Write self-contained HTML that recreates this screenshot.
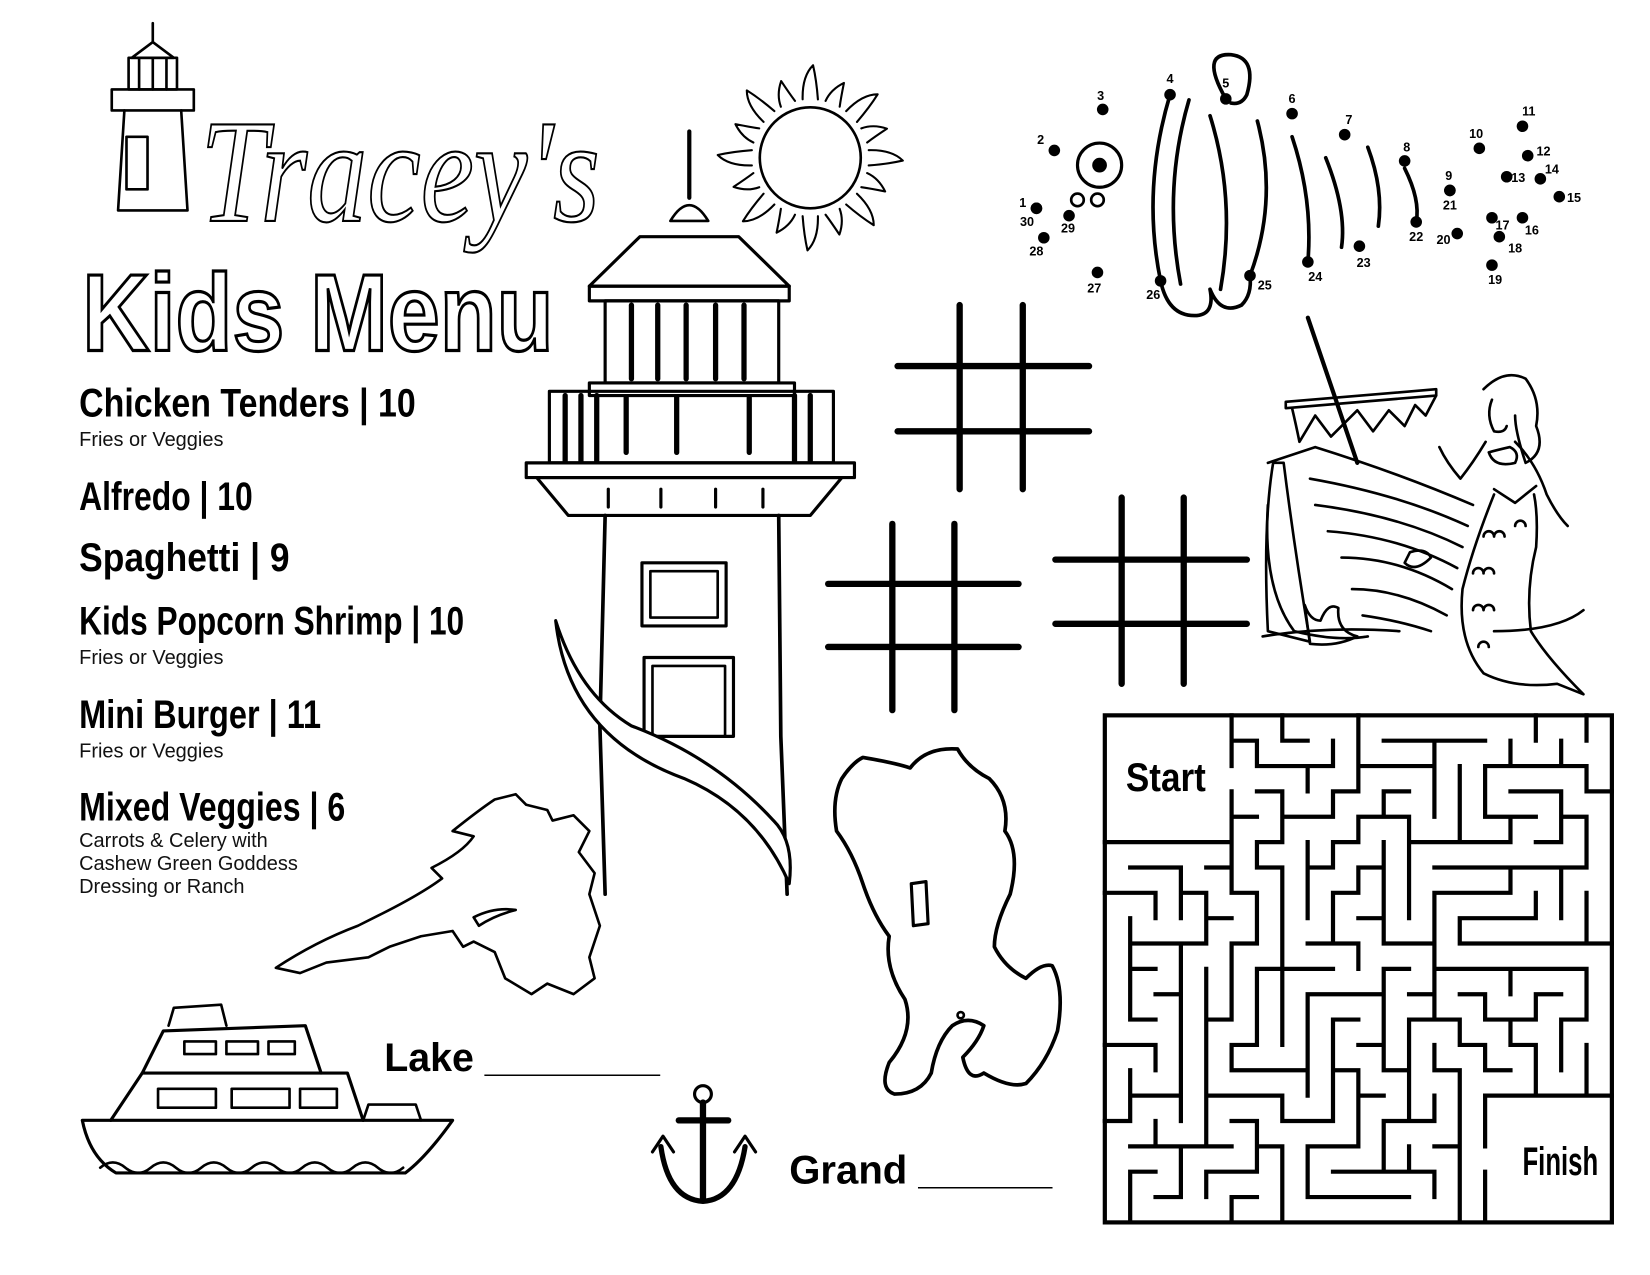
<!DOCTYPE html>
<html><head><meta charset="utf-8"><style>
html,body{margin:0;padding:0;background:#fff;}
svg{display:block}
.h{font-family:"Liberation Sans Narrow","Liberation Sans",sans-serif;font-weight:bold;font-size:38px;fill:#000}
.s{font-family:"Liberation Sans",sans-serif;font-size:19px;fill:#111}
.n{font-family:"Liberation Sans",sans-serif;font-weight:bold;font-size:12px;fill:#000}
</style></head><body>
<svg id="sv" width="1650" height="1275" viewBox="0 0 1568 1212" xmlns="http://www.w3.org/2000/svg">
<rect width="1568" height="1212" fill="#fff"/>
<g fill="none" stroke="#000" stroke-width="2.5" stroke-linejoin="round" stroke-linecap="round">
<line x1="145" y1="22" x2="145" y2="40"/>
<path d="M125 55 L145 40 L165 55 Z"/>
<rect x="122" y="55" width="46" height="30"/>
<line x1="132" y1="55" x2="132" y2="85"/><line x1="145" y1="55" x2="145" y2="85"/><line x1="158" y1="55" x2="158" y2="85"/>
<rect x="106" y="85" width="78" height="20"/>
<path d="M118 105 L112 200 L178 200 L172 105"/>
<rect x="120" y="130" width="20" height="50"/>
<circle cx="770" cy="150" r="48"/>
<path id="rays" d="" stroke-width="2"/>
<line x1="655" y1="125" x2="655" y2="188" stroke-width="4"/>
<path d="M637 210 Q655 180 673 210 Z"/>
<path d="M560 272 L608 225 L702 225 L750 272 Z" stroke-width="3"/>
<rect x="560" y="272" width="190" height="14" stroke-width="3"/>
<rect x="575" y="286" width="165" height="78" stroke-width="3"/>
<g stroke-width="5"><line x1="600" y1="290" x2="600" y2="360"/><line x1="625" y1="290" x2="625" y2="360"/><line x1="652" y1="290" x2="652" y2="360"/><line x1="680" y1="290" x2="680" y2="360"/><line x1="707" y1="290" x2="707" y2="360"/></g>
<rect x="560" y="364" width="195" height="12" stroke-width="3"/>
<rect x="522" y="372" width="270" height="68" stroke-width="3"/>
<g stroke-width="5"><line x1="537" y1="376" x2="537" y2="438"/><line x1="552" y1="376" x2="552" y2="438"/><line x1="567" y1="376" x2="567" y2="438"/><line x1="755" y1="376" x2="755" y2="438"/><line x1="770" y1="376" x2="770" y2="438"/><line x1="643" y1="378" x2="643" y2="430"/><line x1="712" y1="378" x2="712" y2="430"/><line x1="595" y1="378" x2="595" y2="430"/></g>
<rect x="500" y="440" width="312" height="14" stroke-width="3"/>
<path d="M510 454 L800 454 L770 490 L540 490 Z" stroke-width="3"/>
<g stroke-width="3"><line x1="578" y1="465" x2="578" y2="482"/><line x1="628" y1="465" x2="628" y2="482"/><line x1="680" y1="465" x2="680" y2="482"/><line x1="725" y1="465" x2="725" y2="482"/></g>
<path d="M575 490 L570 690 L575 850 M740 490 L742 700 L748 850" stroke-width="3.5"/>
<rect x="610" y="535" width="80" height="60" stroke-width="3"/><rect x="618" y="543" width="64" height="44"/>
<rect x="612" y="625" width="85" height="75" stroke-width="3"/><rect x="620" y="633" width="69" height="67"/>
<path d="M528 590 Q540 700 650 740 Q720 770 750 840 Q755 800 735 780 Q680 720 600 690 Q550 660 528 590 Z" stroke-width="3" fill="#fff"/>
<g stroke-width="6">
<line x1="912" y1="290" x2="912" y2="465"/><line x1="972" y1="290" x2="972" y2="465"/><line x1="853" y1="348" x2="1035" y2="348"/><line x1="853" y1="410" x2="1035" y2="410"/>
<line x1="848" y1="498" x2="848" y2="675"/><line x1="907" y1="498" x2="907" y2="675"/><line x1="787" y1="555" x2="968" y2="555"/><line x1="787" y1="615" x2="968" y2="615"/>
<line x1="1066" y1="473" x2="1066" y2="650"/><line x1="1125" y1="473" x2="1125" y2="650"/><line x1="1003" y1="532" x2="1185" y2="532"/><line x1="1003" y1="593" x2="1185" y2="593"/>
</g>
<circle cx="1045" cy="157" r="21" stroke-width="3"/>
<circle cx="1024" cy="190" r="6"/><circle cx="1043" cy="190" r="6"/>
<g stroke-width="3.5">
<path d="M1112 90 Q1085 180 1103 267"/>
<path d="M1130 95 Q1105 180 1122 270"/>
<path d="M1165 94 Q1140 50 1170 52 Q1195 55 1185 90 Q1180 100 1170 98"/>
<path d="M1150 110 Q1175 190 1160 275"/>
<path d="M1195 115 Q1215 190 1188 262"/>
<path d="M1228 130 Q1248 190 1243 249"/>
<path d="M1260 150 Q1280 200 1275 235"/>
<path d="M1300 140 Q1315 180 1310 215"/>
<path d="M1335 160 Q1350 190 1346 211"/>
<path d="M1103 267 Q1110 300 1135 300 Q1155 300 1150 275 Q1160 300 1180 290 Q1190 280 1188 262"/>
</g>
<path d="M1243 302 L1290 440" stroke-width="4"/>
<path d="M1222 382 L1365 370 L1365 376 L1222 388 Z"/>
<path d="M1228 388 Q1232 405 1235 420 L1250 395 L1265 415 L1290 390 L1305 410 L1320 390 L1335 405 L1345 385 L1355 395 L1365 376"/>
<path d="M1210 440 Q1200 500 1205 600 L1245 610 Q1230 520 1220 440 Z"/>
<path d="M1205 440 L1250 425 Q1330 450 1400 480"/>
<path d="M1245 455 Q1330 470 1395 500 M1250 480 Q1330 490 1390 520 M1262 505 Q1330 510 1385 540 M1275 530 Q1330 530 1380 560 M1285 560 Q1330 560 1375 585 M1295 585 Q1330 590 1360 600"/>
<path d="M1205 480 Q1200 560 1230 600 Q1270 610 1300 605"/>
<path d="M1340 525 Q1355 520 1360 530 Q1345 545 1335 535 Z"/>
<path d="M1240 575 Q1245 590 1255 590 Q1262 572 1272 578 Q1270 600 1290 605 Q1270 615 1245 612 Z"/>
<path d="M1200 605 Q1260 595 1330 600 M1420 600 Q1480 600 1505 580"/>
<path d="M1410 370 Q1430 350 1450 360 Q1465 380 1460 405 Q1470 430 1450 440 Q1440 410 1440 395"/>
<path d="M1418 380 Q1412 395 1420 410 Q1430 412 1432 405"/>
<path d="M1412 420 Q1400 440 1388 455 Q1375 440 1368 425"/>
<path d="M1440 420 Q1460 440 1470 470 Q1480 490 1490 500"/>
<path d="M1415 430 Q1420 445 1440 440 Q1445 430 1435 425 Q1422 428 1415 430"/>
<path d="M1420 465 L1440 478 L1460 462 M1420 470 Q1400 520 1390 560 Q1385 610 1410 640 Q1440 655 1480 650 L1505 660 Q1470 625 1455 600 Q1450 560 1460 520 Q1462 490 1458 470"/>
<path d="M1410 510 a5 5 0 0 1 10 0 a5 5 0 0 1 10 0 M1400 545 a5 5 0 0 1 10 0 a5 5 0 0 1 10 0 M1400 580 a5 5 0 0 1 10 0 a5 5 0 0 1 10 0 M1405 615 a5 5 0 0 1 10 0 M1440 500 a5 5 0 0 1 10 0"/>
<path d="M262 920 Q300 895 340 880 L360 870 Q400 850 420 835 L410 825 Q440 810 450 795 L430 790 Q455 770 470 760 L490 755 L500 765 L520 770 L525 780 L545 775 L560 790 L550 810 L565 830 L560 850 L570 880 L560 910 L565 930 L545 945 L520 935 L505 945 L480 930 L470 905 L450 895 L440 900 L430 885 L400 890 L370 900 L350 910 L310 915 L285 925 Z"/>
<path d="M450 872 Q470 862 490 865 Q470 870 455 880 Z"/>
<path d="M820 720 Q850 725 865 730 Q880 710 910 712 Q920 730 940 740 Q960 760 955 790 Q970 810 960 850 Q945 880 945 900 Q955 920 975 930 Q990 915 1000 918 Q1012 940 1005 980 Q995 1010 975 1030 Q960 1035 935 1020 Q920 1030 915 1005 Q930 990 935 975 Q920 965 905 975 Q890 990 885 1020 Q875 1040 850 1040 Q835 1035 845 1010 Q870 980 860 950 Q840 920 845 890 Q830 870 820 840 Q810 810 795 790 Q790 760 800 740 Q810 725 820 720 Z" stroke-width="3.5"/>
<path d="M866 840 L880 838 L882 878 L868 880 Z" stroke-width="3"/>
<circle cx="913" cy="965" r="3"/>
<path d="M78 1065 L430 1065 Q405 1100 385 1115 L110 1115 Q85 1100 78 1065 Z" stroke-width="3"/>
<path d="M105 1065 L135 1020 L330 1020 L345 1065" stroke-width="3"/>
<path d="M135 1020 L155 980 L290 975 L305 1020" stroke-width="3"/>
<path d="M160 975 L165 958 L210 955 L215 975"/>
<rect x="150" y="1035" width="55" height="18"/><rect x="220" y="1035" width="55" height="18"/><rect x="285" y="1035" width="35" height="18"/>
<rect x="175" y="990" width="30" height="12"/><rect x="215" y="990" width="30" height="12"/><rect x="255" y="990" width="25" height="12"/>
<path d="M345 1065 L350 1050 L395 1050 L400 1065"/>
<path d="M95 1110 q12 -10 24 0 q12 10 24 0 q12 -10 24 0 q12 10 24 0 q12 -10 24 0 q12 10 24 0 q12 -10 24 0 q12 10 24 0 q12 -10 24 0 q12 10 24 0 q12 -10 24 0 q12 10 24 0"/>
<circle cx="668" cy="1040" r="8" stroke-width="3"/>
<path d="M668 1048 L668 1140 M645 1065 L692 1065" stroke-width="6"/>
<path d="M628 1090 Q635 1140 668 1142 Q700 1140 708 1090" stroke-width="5"/>
<path d="M620 1095 L630 1080 L640 1095 M698 1095 L708 1080 L718 1095" stroke-width="3"/>
</g>
<g id="dots"></g>
<text x="190" y="210" font-family="Liberation Serif,serif" font-style="italic" font-size="140" fill="#fff" stroke="#000" stroke-width="2" textLength="380" lengthAdjust="spacingAndGlyphs">Tracey's</text>
<text x="78" y="333" font-family="Liberation Sans,sans-serif" font-weight="bold" font-size="104" fill="#fff" stroke="#000" stroke-width="3" textLength="448" lengthAdjust="spacingAndGlyphs">Kids Menu</text>
<text class="h" x="75" y="396" textLength="320" lengthAdjust="spacingAndGlyphs">Chicken Tenders | 10</text>
<text class="s" x="75" y="424">Fries or Veggies</text>
<text class="h" x="75" y="485" textLength="165" lengthAdjust="spacingAndGlyphs">Alfredo | 10</text>
<text class="h" x="75" y="543" textLength="200" lengthAdjust="spacingAndGlyphs">Spaghetti | 9</text>
<text class="h" x="75" y="603" textLength="366" lengthAdjust="spacingAndGlyphs">Kids Popcorn Shrimp | 10</text>
<text class="s" x="75" y="631">Fries or Veggies</text>
<text class="h" x="75" y="692" textLength="230" lengthAdjust="spacingAndGlyphs">Mini Burger | 11</text>
<text class="s" x="75" y="720">Fries or Veggies</text>
<text class="h" x="75" y="780" textLength="253" lengthAdjust="spacingAndGlyphs">Mixed Veggies | 6</text>
<text class="s" x="75" y="805">Carrots &amp; Celery with</text>
<text class="s" x="75" y="827">Cashew Green Goddess</text>
<text class="s" x="75" y="849">Dressing or Ranch</text>
<text class="h" x="365" y="1018" textLength="262" lengthAdjust="spacingAndGlyphs">Lake ________</text>
<text class="h" x="750" y="1125" textLength="250" lengthAdjust="spacingAndGlyphs">Grand ______</text>
<g id="maze" stroke="#000" stroke-width="4" stroke-linecap="square" fill="none"></g>
<rect x="1050" y="680" width="482" height="482" fill="none" stroke="#000" stroke-width="4"/>
<text class="h" x="1070" y="752" font-size="32" textLength="76" lengthAdjust="spacingAndGlyphs">Start</text>
<text class="h" x="1447" y="1117" font-size="30" textLength="72" lengthAdjust="spacingAndGlyphs">Finish</text>
</svg>
<script>
(function(){
var NS="http://www.w3.org/2000/svg";
var d="",cx=770,cy=150,N=16;
for(var i=0;i<N;i++){var a=i/N*2*Math.PI,a1=a-0.13,a2=a+0.13,r1=56,r2=(i%2?78:88);
var am=a+0.03;
d+="M"+(cx+r1*Math.cos(a1))+" "+(cy+r1*Math.sin(a1))+" Q"+(cx+(r2-10)*Math.cos(a-0.1))+" "+(cy+(r2-10)*Math.sin(a-0.1))+" "+(cx+r2*Math.cos(am))+" "+(cy+r2*Math.sin(am))+" Q"+(cx+(r2-14)*Math.cos(a+0.08))+" "+(cy+(r2-14)*Math.sin(a+0.08))+" "+(cx+r1*Math.cos(a2))+" "+(cy+r1*Math.sin(a2))+" ";}
document.getElementById('rays').setAttribute('d',d);
var D=[[1,985,198,972,197],[30,985,198,976,215],[28,992,226,985,243],[29,1016,205,1015,221],[2,1002,143,989,137],[3,1048,104,1046,95],[4,1112,90,1112,79],[5,1165,94,1165,83],[6,1228,108,1228,98],[7,1278,128,1282,118],[8,1335,153,1337,144],[9,1378,181,1377,171],[21,1378,181,1378,199],[22,1346,211,1346,229],[20,1385,222,1372,232],[10,1406,141,1403,131],[11,1447,120,1453,110],[12,1452,148,1467,148],[13,1432,168,1443,173],[14,1464,170,1475,165],[15,1482,187,1496,192],[16,1447,207,1456,223],[17,1418,207,1428,218],[18,1425,225,1440,240],[19,1418,252,1421,270],[23,1292,234,1296,254],[24,1243,249,1250,267],[25,1188,262,1202,275],[26,1103,267,1096,284],[27,1043,259,1040,278]];
var g=document.getElementById('dots');
D.forEach(function(p){var c=document.createElementNS(NS,'circle');c.setAttribute('cx',p[1]);c.setAttribute('cy',p[2]);c.setAttribute('r',5.5);g.appendChild(c);
var t=document.createElementNS(NS,'text');t.setAttribute('x',p[3]);t.setAttribute('y',p[4]);t.setAttribute('class','n');t.setAttribute('text-anchor','middle');t.textContent=p[0];g.appendChild(t);});
var e=document.createElementNS(NS,'circle');e.setAttribute('cx',1045);e.setAttribute('cy',157);e.setAttribute('r',7);g.appendChild(e);
var n=20,cs=482/n,x0=1050,y0=680,seed=7;
function rnd(){seed=(seed*16807)%2147483647;return seed/2147483647;}
function inS(x,y){return x<5&&y<5;} function inF(x,y){return x>=15&&y>=15;}
var R=[],B=[],V=[];
for(var y=0;y<n;y++){R[y]=[];B[y]=[];V[y]=[];for(var x=0;x<n;x++){R[y][x]=true;B[y][x]=true;V[y][x]=false;}}
for(y=0;y<n;y++)for(x=0;x<n;x++){if(inS(x,y)||inF(x,y)){V[y][x]=true;if(x<n-1&&((inS(x,y)&&inS(x+1,y))||(inF(x,y)&&inF(x+1,y))))R[y][x]=false;if(y<n-1&&((inS(x,y)&&inS(x,y+1))||(inF(x,y)&&inF(x,y+1))))B[y][x]=false;}}
var st=[[5,0]];V[0][5]=true;
while(st.length){var c=st[st.length-1],cx2=c[0],cy2=c[1],nb=[];
[[1,0],[-1,0],[0,1],[0,-1]].forEach(function(dd){var nx=cx2+dd[0],ny=cy2+dd[1];if(nx>=0&&ny>=0&&nx<n&&ny<n&&!V[ny][nx])nb.push([nx,ny]);});
if(!nb.length){st.pop();continue;}
var k=nb[Math.floor(rnd()*nb.length)];
if(k[0]>cx2)R[cy2][cx2]=false;else if(k[0]<cx2)R[cy2][k[0]]=false;else if(k[1]>cy2)B[cy2][cx2]=false;else B[k[1]][cx2]=false;
V[k[1]][k[0]]=true;st.push(k);}
R[2][4]=false;R[17][14]=false;
var mg=document.getElementById('maze'),md="";
for(y=0;y<n;y++)for(x=0;x<n;x++){
if(x<n-1&&R[y][x])md+="M"+(x0+(x+1)*cs)+" "+(y0+y*cs)+"V"+(y0+(y+1)*cs);
if(y<n-1&&B[y][x])md+="M"+(x0+x*cs)+" "+(y0+(y+1)*cs)+"H"+(x0+(x+1)*cs);}
var p=document.createElementNS(NS,'path');p.setAttribute('d',md);mg.appendChild(p);
})();
</script>
</body></html>
